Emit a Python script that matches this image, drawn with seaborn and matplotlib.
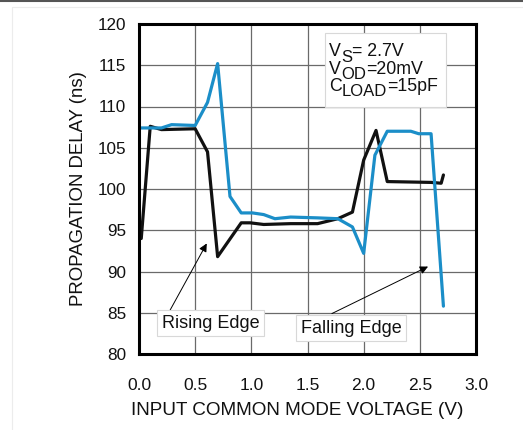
import matplotlib
matplotlib.use("Agg")
import matplotlib.pyplot as plt
from matplotlib.lines import Line2D
from matplotlib.patches import Rectangle
import seaborn as sns
import pandas as pd

# ---- data ----
x_rise = [0.02, 0.10, 0.20, 0.50, 0.61, 0.70, 0.91, 0.99, 1.11, 1.35, 1.59, 1.77, 1.90, 2.00, 2.11, 2.21, 2.60, 2.69, 2.71]
y_rise = [94.0, 107.6, 107.2, 107.3, 104.5, 91.8, 95.9, 95.9, 95.7, 95.8, 95.8, 96.4, 97.2, 103.5, 107.1, 100.9, 100.8, 100.7, 101.7]

x_fall = [0.02, 0.20, 0.29, 0.50, 0.61, 0.70, 0.81, 0.91, 1.01, 1.11, 1.21, 1.35, 1.59, 1.77, 1.90, 2.00, 2.10, 2.21, 2.42, 2.49, 2.60, 2.71]
y_fall = [107.4, 107.4, 107.8, 107.7, 110.5, 115.2, 99.1, 97.1, 97.1, 96.9, 96.4, 96.6, 96.5, 96.4, 95.4, 92.2, 104.1, 107.0, 107.0, 106.7, 106.7, 85.8]

x_ticks = [0.0, 0.5, 1.0, 1.5, 2.0, 2.5, 3.0]
x_tick_labels = ["0.0", "0.5", "1.0", "1.5", "2.0", "2.5", "3.0"]
y_ticks = [80, 85, 90, 95, 100, 105, 110, 115, 120]

# conditions text: (main, subscript, rest)
cond_lines = [("V", "S", "= 2.7V"), ("V", "OD", "=20mV"), ("C", "LOAD", "=15pF")]

df_rise = pd.DataFrame({"v": x_rise, "d": y_rise})
df_fall = pd.DataFrame({"v": x_fall, "d": y_fall})

sns.set_theme(style="whitegrid")
plt.rcParams["font.family"] = ["Liberation Sans", "DejaVu Sans"]

W, H = 523, 430
fig = plt.figure(figsize=(W / 100, H / 100), dpi=100)
ax = fig.add_axes([139 / W, 1 - 354 / H, 337 / W, 330 / H])

TXT = "#111111"
BLACK = "#111111"
BLUE = "#1b8ec8"

sns.lineplot(data=df_rise, x="v", y="d", ax=ax, color=BLACK, lw=2.3,
             sort=False, estimator=None)
sns.lineplot(data=df_fall, x="v", y="d", ax=ax, color=BLUE, lw=2.3,
             sort=False, estimator=None)

ax.set_xlim(0, 3)
ax.set_ylim(80, 120)
ax.set_xticks(x_ticks)
ax.set_xticklabels(x_tick_labels)
ax.set_yticks(y_ticks)
ax.tick_params(axis="x", length=0, pad=17, labelsize=12.5, colors=TXT)
ax.tick_params(axis="y", length=0, pad=9, labelsize=12.3, colors=TXT)
ax.grid(True, color="#6a6a6a", lw=0.9)
ax.set_facecolor("white")
for s in ax.spines.values():
    s.set_visible(True)
    s.set_color("black")
    s.set_linewidth(2.2)

ax.set_xlabel("INPUT COMMON MODE VOLTAGE (V)", fontsize=13.6, color=TXT)
ax.xaxis.set_label_coords((297 - 139) / 337, -(402 - 354) / 330)
ax.set_ylabel("PROPAGATION DELAY (ns)", fontsize=13.4, color=TXT)
ax.yaxis.set_label_coords(-(139 - 87) / 337, 0.5)

# conditions box (figure pixel coordinates, y from top)
def fx(px):
    return px / W

def fy(py):
    return 1 - py / H

ax.add_patch(Rectangle((fx(325), fy(107)), fx(446) - fx(325), fy(33) - fy(107),
                       transform=fig.transFigure, fc="white", ec="#d8d8d8",
                       lw=0.8, zorder=5))
renderer = fig.canvas.get_renderer()
base_y = [56.5, 73.8, 91.0]
for (main, sub, rest), by in zip(cond_lines, base_y):
    x0 = 329.0
    t = ax.text(fx(x0), fy(by), main, transform=fig.transFigure, fontsize=12.8,
                color=TXT, va="baseline", ha="left", zorder=6)
    x0 = t.get_window_extent(renderer).x1
    t = ax.text(fx(x0), fy(by + 5), sub, transform=fig.transFigure, fontsize=12.0,
                color=TXT, va="baseline", ha="left", zorder=6)
    x0 = t.get_window_extent(renderer).x1
    ax.text(fx(x0), fy(by), rest, transform=fig.transFigure, fontsize=12.8,
            color=TXT, va="baseline", ha="left", zorder=6)

# arrows
arrow = dict(arrowstyle="-|>", color="black", lw=0.7, mutation_scale=12, shrinkA=0, shrinkB=0)
ax.annotate("", xy=(0.603, 93.4), xytext=(0.276, 85.3), arrowprops=arrow, zorder=6)
ax.annotate("", xy=(2.573, 90.6), xytext=(1.717, 84.9), arrowprops=arrow, zorder=6)

box = dict(boxstyle="square,pad=0.25", fc="white", ec="#d8d8d8", lw=0.8)
ax.text(0.637, 83.7, "Rising Edge", fontsize=13, ha="center", va="center",
        color=TXT, bbox=box, zorder=7)
ax.text(1.89, 83.15, "Falling Edge", fontsize=13, ha="center", va="center",
        color=TXT, bbox=box, zorder=7)

# page decorations
fig.add_artist(Line2D([0, 1], [1 - 1 / H, 1 - 1 / H], color="#555555", lw=1.5))
fig.add_artist(Line2D([12 / W, 12 / W], [0, 1 - 7 / H], color="#ececec", lw=0.8))
fig.add_artist(Line2D([12 / W, 1], [1 - 7 / H, 1 - 7 / H], color="#ececec", lw=0.8))

fig.savefig("out.png", dpi=100)
